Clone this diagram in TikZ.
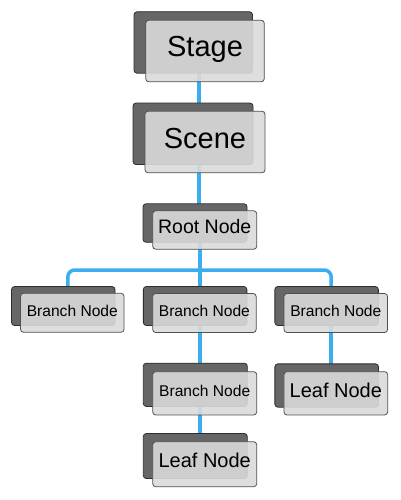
\documentclass[tikz,border=0pt]{standalone}
\usepackage{fontspec}
\setmainfont{Liberation Sans}
\usetikzlibrary{calc,backgrounds}
\definecolor{conncol}{HTML}{3AAEEF}
\definecolor{backfill}{HTML}{666666}
\definecolor{backline}{HTML}{2E2E2E}
\definecolor{frontfill}{HTML}{DADADA}
\definecolor{frontline}{HTML}{505050}
\tikzset{
  backbox/.style={draw=backline, line width=0.8pt, fill=backfill, rounded corners=3pt, inner sep=0pt},
  frontbox/.style={draw=frontline, line width=0.8pt, fill=frontfill, fill opacity=0.9, text opacity=1, rounded corners=3pt, inner sep=0pt, text=black},
  bigtext/.style={font=\fontsize{29}{29}\selectfont, text height=20.8pt},
  roottext/.style={font=\fontsize{19.5}{19.5}\selectfont, text height=14pt},
  branchtext/.style={font=\fontsize{15.6}{15.6}\selectfont, text height=11.2pt},
  leaftext/.style={font=\fontsize{20}{20}\selectfont, text height=14.3pt},
  conn/.style={draw=conncol, line width=3.5pt}
}
% name, cx, cy, w, h, dx, dy, options, text
\newcommand\treebox[9]{%
  \node[backbox, minimum width=#4pt, minimum height=#5pt] (#1b) at ({#2-#6},{#3-#7}) {};
  \node[frontbox, minimum width=#4pt, minimum height=#5pt, #8] (#1) at (#2,#3) {#9};
}
\begin{document}
\begin{tikzpicture}[x=1pt,y=-1pt]
\useasboundingbox (0,0) rectangle (400,500);
\treebox{stage}{205}{51}{118.5}{61.5}{11.7}{8.5}{bigtext, text depth=9pt}{Stage}
\treebox{scene}{205}{142}{120}{61.5}{12}{8.2}{bigtext, text depth=8.6pt}{Scene}
\treebox{root}{204.7}{230}{104}{38.5}{9.7}{7}{roottext, text depth=6.6pt}{Root Node}
\treebox{bl}{72.3}{312.8}{103.5}{39}{9}{6.8}{branchtext, text depth=3.6pt}{Branch Node}
\treebox{bm}{204.4}{313}{103.5}{39}{9.3}{7}{branchtext, text depth=3.6pt}{Branch Node}
\treebox{br}{335.8}{313}{103.5}{39}{9.2}{7}{branchtext, text depth=3.6pt}{Branch Node}
\treebox{bd}{204.7}{393.3}{104}{43.3}{9.4}{8.5}{branchtext, text depth=5.6pt}{Branch Node}
\treebox{leafr}{335.8}{393.3}{103.7}{43.3}{9.1}{7.8}{leaftext, text depth=5pt}{Leaf Node}
\treebox{leafd}{204.7}{464.2}{104}{45}{9.4}{8.2}{leaftext, text depth=7.4pt}{Leaf Node}
\coordinate (junction) at (200,270);
\begin{pgfonlayer}{background}
  \coordinate (m1) at ($(stageb.center)!0.5!(stage.center)$);
  \draw[conn] (m1) -- (m1 |- sceneb.center);
  \coordinate (m2) at ($(sceneb.center)!0.5!(scene.center)$);
  \draw[conn] (m2) -- (m2 |- rootb.center);
  \coordinate (m3) at ($(rootb.center)!0.5!(root.center)$);
  \draw[conn] (m3) -- (m3 |- bmb.center);
  \coordinate (ml) at ($(blb.center)!0.5!(bl.center)$);
  \coordinate (mr) at ($(brb.center)!0.5!(br.center)$);
  \draw[conn, rounded corners=7pt] (ml) |- (junction) -| (mr);
  \coordinate (m4) at ($(bmb.center)!0.5!(bm.center)$);
  \draw[conn] (m4) -- (m4 |- bdb.center);
  \coordinate (m5) at ($(bdb.center)!0.5!(bd.center)$);
  \draw[conn] (m5) -- (m5 |- leafdb.center);
  \coordinate (m6) at ($(brb.center)!0.5!(br.center)$);
  \draw[conn] (m6) -- (m6 |- leafrb.center);
\end{pgfonlayer}
\end{tikzpicture}
\end{document}
